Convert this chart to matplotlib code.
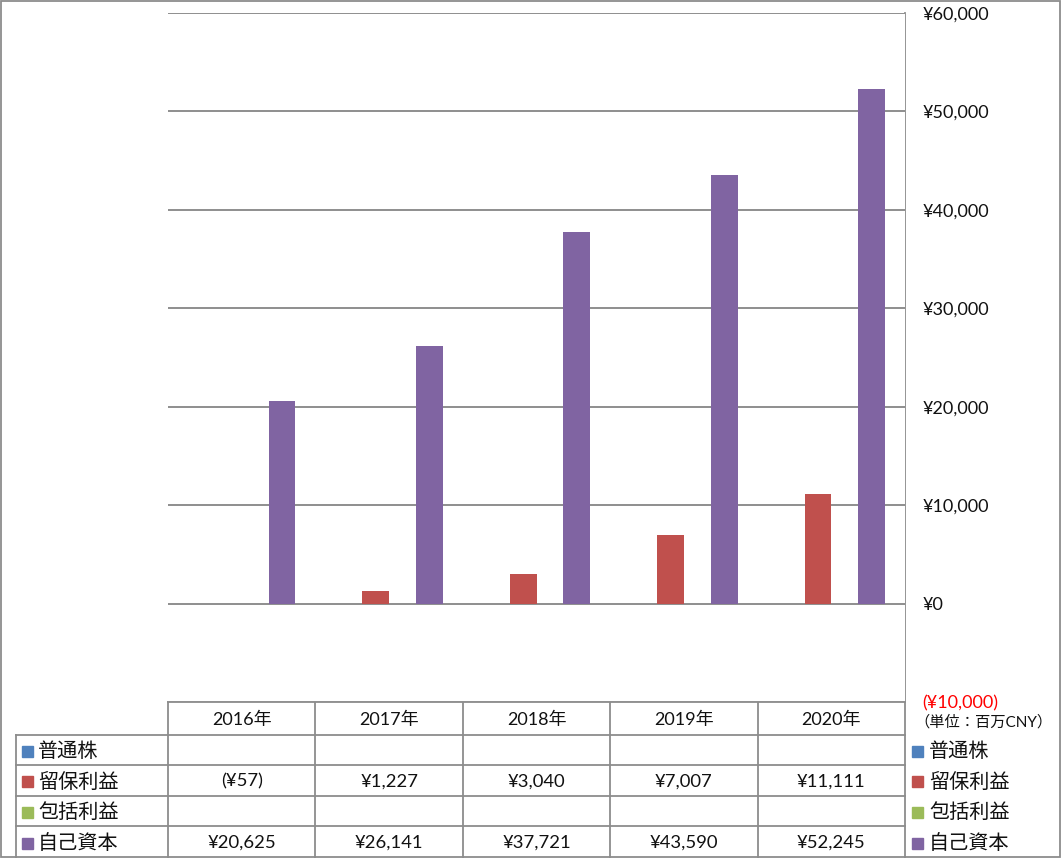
import matplotlib
matplotlib.use("Agg")
import matplotlib.pyplot as plt
from matplotlib.ticker import FuncFormatter, MultipleLocator
from matplotlib.patches import Rectangle
import numpy as np

plt.rcParams['font.family'] = ['Lato', 'Noto Sans CJK JP', 'DejaVu Sans']

# ---- data ----
categories = ["2016年", "2017年", "2018年", "2019年", "2020年"]
series_names = ["普通株", "留保利益", "包括利益", "自己資本"]
common_stock = [None, None, None, None, None]
retained_earnings = [-57, 1227, 3040, 7007, 11111]
comprehensive_income = [None, None, None, None, None]
equity = [20625, 26141, 37721, 43590, 52245]
series_values = [common_stock, retained_earnings, comprehensive_income, equity]
colors = ["#4F81BD", "#C0504D", "#9BBB59", "#8064A2"]
unit_label = "（単位：百万CNY）"

W, H = 1061, 858
fig = plt.figure(figsize=(W / 100, H / 100), dpi=100)

# axes geometry in pixels
ax_l, ax_r, ax_t, ax_b = 168, 905, 13, 702
ax = fig.add_axes([ax_l / W, 1 - ax_b / H, (ax_r - ax_l) / W, (ax_b - ax_t) / H])

n = len(categories)
ns = len(series_names)
x = np.arange(n)
bw = 1.0 / (ns + 1.5)
for i, (vals, c) in enumerate(zip(series_values, colors)):
    v = [np.nan if a is None else a for a in vals]
    ax.bar(x + (i - (ns - 1) / 2) * bw, v, width=bw, color=c, zorder=3)

ax.set_xlim(-0.5, n - 0.5)
ax.set_ylim(-10000, 60000)
ax.yaxis.set_major_locator(MultipleLocator(10000))
ax.grid(axis='y', color='#868686', linewidth=1.3, zorder=0)
ax.yaxis.tick_right()
ax.tick_params(axis='y', length=0, pad=12.5, labelsize=13, labelcolor='#111111')
ax.tick_params(axis='x', length=0, labelbottom=False)


def yfmt(v, pos):
    if v < 0:
        return "(¥{:,.0f})".format(-v)
    return "¥{:,.0f}".format(v)


ax.yaxis.set_major_formatter(FuncFormatter(yfmt))
for s in ['top', 'left', 'bottom', 'right']:
    ax.spines[s].set_visible(False)
fig.canvas.draw()
for lab in ax.get_yticklabels():
    if lab.get_text().startswith("("):
        lab.set_color('red')

# overlay for table, frame, legend
ov = fig.add_axes([0, 0, 1, 1], zorder=-1)
ov.set_xlim(0, W)
ov.set_ylim(H, 0)
ov.axis('off')
gc = '#8c8c8c'
# outer frame
ov.add_patch(Rectangle((1, 1), W - 2.5, H - 2.5, fill=False, edgecolor=gc, linewidth=1.3))
# vertical axis line extends through the table
ov.plot([ax_r, ax_r], [ax_t, H], color=gc, lw=1.3)

# table
row_y = [702, 735, 765, 796, 826, H]
col_w = (ax_r - ax_l) / n
col_x = [ax_l + k * col_w for k in range(n + 1)]
tab_left = 16
ov.plot([ax_l, ax_r], [row_y[0], row_y[0]], color=gc, lw=1.3)
for yy in row_y[1:-1]:
    ov.plot([tab_left, ax_r], [yy, yy], color=gc, lw=1.3)
for xx in col_x[:-1]:
    ov.plot([xx, xx], [row_y[0], H], color=gc, lw=1.3)
ov.plot([tab_left, tab_left], [row_y[1], H], color=gc, lw=1.3)

for k, cat in enumerate(categories):
    ov.text((col_x[k] + col_x[k + 1]) / 2, (row_y[0] + row_y[1]) / 2 + 1, cat,
            ha='center', va='center', fontsize=13, color='#111111')


def cellfmt(v):
    if v is None:
        return ""
    if v < 0:
        return "(¥{:,})".format(-v)
    return "¥{:,}".format(v)


for r, (name, vals, c) in enumerate(zip(series_names, series_values, colors)):
    yc = (row_y[r + 1] + row_y[r + 2]) / 2 + 1
    ov.add_patch(Rectangle((22, yc - 5.5), 11, 11, color=c))
    ov.text(38, yc, name, ha='left', va='center', fontsize=14.5, color='#111111')
    for k, v in enumerate(vals):
        ov.text((col_x[k] + col_x[k + 1]) / 2, yc, cellfmt(v),
                ha='center', va='center', fontsize=13.3, color='#111111')
    ov.add_patch(Rectangle((912, yc - 5.5), 11, 11, color=c))
    ov.text(929, yc, name, ha='left', va='center', fontsize=14.5, color='#111111')

ov.text(914, 722, unit_label, ha='left', va='center', fontsize=11, color='#111111')

fig.savefig("out.png", dpi=100)
